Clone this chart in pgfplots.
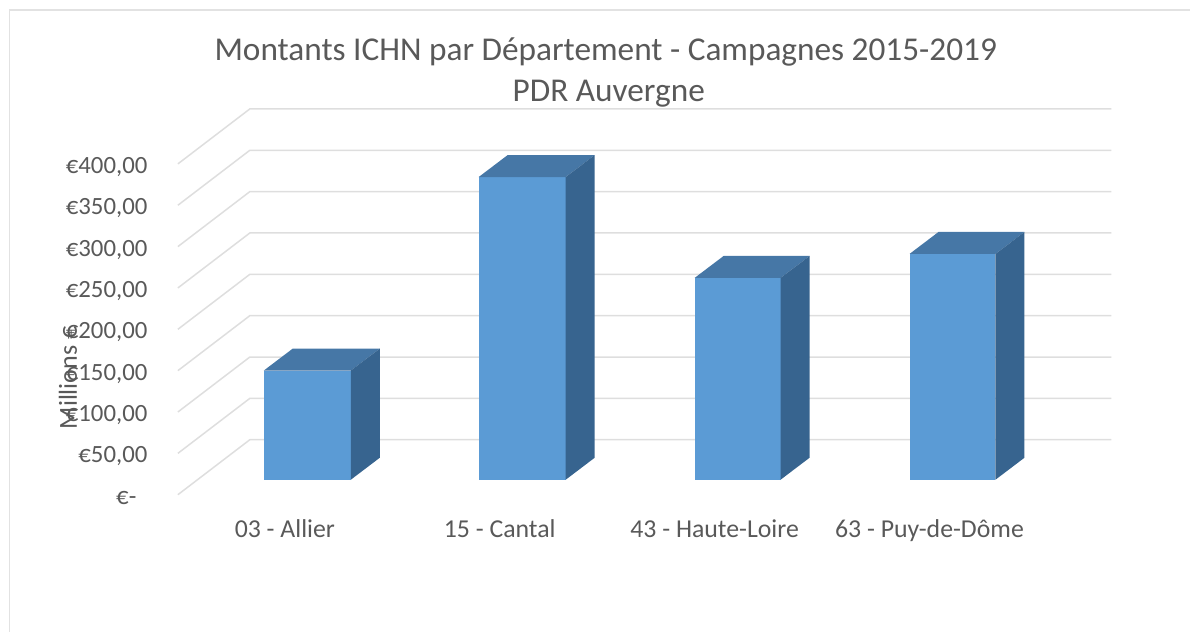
\documentclass[border=0pt]{standalone}
\usepackage{fontspec}
\setmainfont{Carlito}
\usepackage{pgfplots}
\pgfplotsset{compat=1.18}
\definecolor{txtgray}{HTML}{595959}
\definecolor{gridgray}{HTML}{DEDEDE}
\definecolor{framegray}{HTML}{E2E2E2}
\definecolor{barfront}{HTML}{5B9BD5}
\definecolor{bartop}{HTML}{4677A6}
\definecolor{barside}{HTML}{37648F}
\begin{document}
\begin{tikzpicture}[x=1pt,y=1pt]
\begin{axis}[
    scale only axis,
    width=934pt, height=386pt,
    xmin=-0.4977, xmax=3.8465,
    ymin=0, ymax=466.5,
    clip=false,
    axis line style={draw=none},
    major tick length=0pt,
    xtick={0,1,2,3},
    xticklabels={03 - Allier,15 - Cantal,43 - Haute-Loire,63 - Puy-de-Dôme},
    ytick={0,50,100,150,200,250,300,350,400},
    yticklabels={{€-\kern11pt},{€50,00},{€100,00},{€150,00},{€200,00},{€250,00},{€300,00},{€350,00},{€400,00}},
    tick label style={text=txtgray},
    x tick label style={font=\fontsize{25.8}{28}\selectfont, anchor=base, yshift=-43pt},
    y tick label style={font=\fontsize{24.8}{28}\selectfont, anchor=east, xshift=-27pt, yshift=-3pt},
    ylabel={Millions €},
    ylabel style={at={(axis description cs:-0.1178,0.303)}, anchor=center, font=\fontsize{26}{28}\selectfont, text=txtgray},
    title={Montants ICHN par Département - Campagnes 2015-2019\\\kern6pt PDR Auvergne},
    title style={at={(axis description cs:0.4583,1.08)}, anchor=center, align=center, font=\fontsize{33.3}{41}\selectfont, text=txtgray},
]
% floor and back wall gridlines, front edge then back wall
\addplot[gridgray, line width=1.5pt] coordinates {(-0.4977,0) (-0.1628,66.5) (3.8465,66.5)};
\addplot[gridgray, line width=1.5pt] coordinates {(-0.4977,50) (-0.1628,116.5) (3.8465,116.5)};
\addplot[gridgray, line width=1.5pt] coordinates {(-0.4977,100) (-0.1628,166.5) (3.8465,166.5)};
\addplot[gridgray, line width=1.5pt] coordinates {(-0.4977,150) (-0.1628,216.5) (3.8465,216.5)};
\addplot[gridgray, line width=1.5pt] coordinates {(-0.4977,200) (-0.1628,266.5) (3.8465,266.5)};
\addplot[gridgray, line width=1.5pt] coordinates {(-0.4977,250) (-0.1628,316.5) (3.8465,316.5)};
\addplot[gridgray, line width=1.5pt] coordinates {(-0.4977,300) (-0.1628,366.5) (3.8465,366.5)};
\addplot[gridgray, line width=1.5pt] coordinates {(-0.4977,350) (-0.1628,416.5) (3.8465,416.5)};
\addplot[gridgray, line width=1.5pt] coordinates {(-0.4977,400) (-0.1628,466.5) (3.8465,466.5)};
% bars: base at 18.1 (front plane is set forward), values 132, 366, 244, 273
% 03 - Allier
\addplot[fill=barfront, draw=none] coordinates {(-0.098,18.1) (0.307,18.1) (0.307,150.1) (-0.098,150.1)} -- cycle;
\addplot[fill=bartop, draw=none] coordinates {(-0.098,150.1) (0.307,150.1) (0.442,176.7) (0.037,176.7)} -- cycle;
\addplot[fill=barside, draw=none] coordinates {(0.307,18.1) (0.442,44.7) (0.442,176.7) (0.307,150.1)} -- cycle;
% 15 - Cantal
\addplot[fill=barfront, draw=none] coordinates {(0.902,18.1) (1.307,18.1) (1.307,384.1) (0.902,384.1)} -- cycle;
\addplot[fill=bartop, draw=none] coordinates {(0.902,384.1) (1.307,384.1) (1.442,410.7) (1.037,410.7)} -- cycle;
\addplot[fill=barside, draw=none] coordinates {(1.307,18.1) (1.442,44.7) (1.442,410.7) (1.307,384.1)} -- cycle;
% 43 - Haute-Loire
\addplot[fill=barfront, draw=none] coordinates {(1.907,18.1) (2.307,18.1) (2.307,262.1) (1.907,262.1)} -- cycle;
\addplot[fill=bartop, draw=none] coordinates {(1.907,262.1) (2.307,262.1) (2.442,288.7) (2.042,288.7)} -- cycle;
\addplot[fill=barside, draw=none] coordinates {(2.307,18.1) (2.442,44.7) (2.442,288.7) (2.307,262.1)} -- cycle;
% 63 - Puy-de-Dôme
\addplot[fill=barfront, draw=none] coordinates {(2.907,18.1) (3.307,18.1) (3.307,291.1) (2.907,291.1)} -- cycle;
\addplot[fill=bartop, draw=none] coordinates {(2.907,291.1) (3.307,291.1) (3.442,317.7) (3.042,317.7)} -- cycle;
\addplot[fill=barside, draw=none] coordinates {(3.307,18.1) (3.442,44.7) (3.442,317.7) (3.307,291.1)} -- cycle;
% chart area border (top and left only) and page size
\draw[framegray, line width=1.3pt] (axis cs:-1.2814,-165.6) -- (axis cs:-1.2814,586.1) -- (axis cs:4.214,586.1);
\path (axis cs:-1.3256,-165.6) rectangle (axis cs:4.214,598.2);
\end{axis}
\end{tikzpicture}
\end{document}
